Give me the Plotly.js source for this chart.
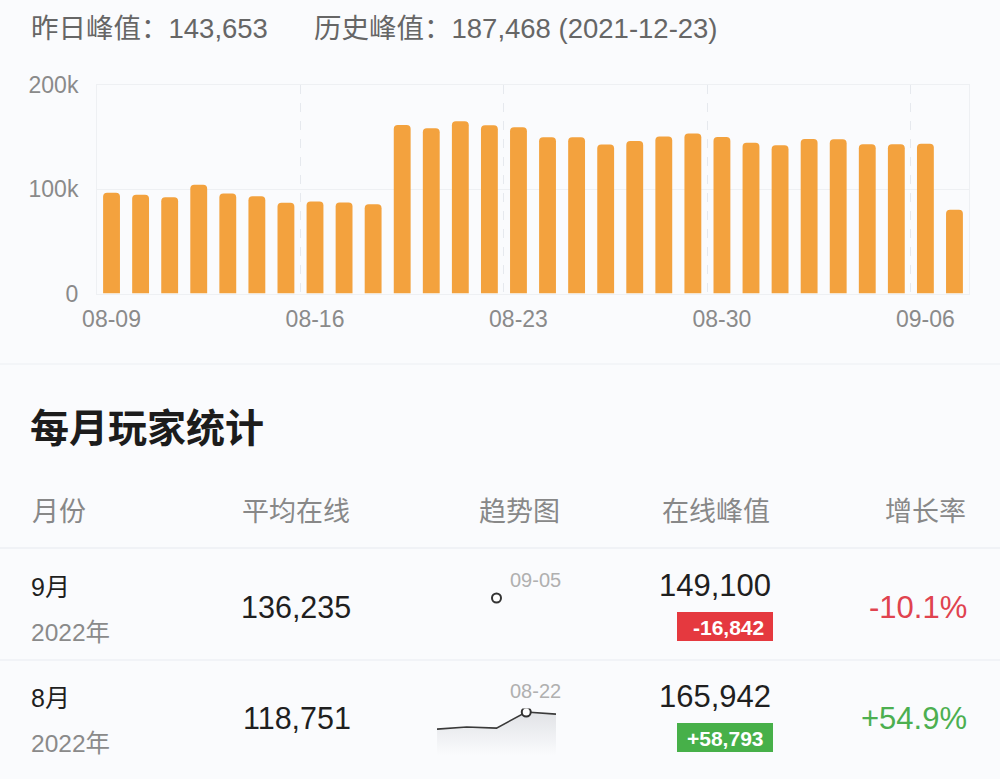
<!DOCTYPE html>
<html>
<head>
<meta charset="utf-8">
<script src="https://cdn.plot.ly/plotly-3.0.1.min.js"></script>
<style>
  html, body { margin: 0; padding: 0; background: #FAFBFD; }
  #chart { width: 1000px; height: 779px; }
</style>
</head>
<body>
<div id="chart"></div>
<script>
// ---------------- DATA ----------------
const dates = ['08-09','08-10','08-11','08-12','08-13','08-14','08-15','08-16','08-17','08-18',
               '08-19','08-20','08-21','08-22','08-23','08-24','08-25','08-26','08-27','08-28',
               '08-29','08-30','08-31','09-01','09-02','09-03','09-04','09-05','09-06','09-07'];
const dailyPeak = [96700, 94700, 92400, 104300, 96000, 93400, 87100, 88300, 87400, 85700,
                   161700, 158500, 165200, 161300, 159400, 149900, 149900, 142900, 146400, 150500,
                   153400, 150200, 144500, 142200, 148300, 148000, 143200, 143200, 143653, 80400];
const xTickLabels = ['08-09','08-16','08-23','08-30','09-06'];
const yTickVals = [0, 100000, 200000];
const yTickText = ['0', '100k', '200k'];

const headerTexts = ['昨日峰值：143,653', '历史峰值：187,468 (2021-12-23)'];
const sectionTitle = '每月玩家统计';
const columnHeaders = ['月份', '平均在线', '趋势图', '在线峰值', '增长率'];

const months = ['9月', '8月'];
const years = ['2022年', '2022年'];
const avgOnline = [136235, 118751];
const peakOnline = [149100, 165942];
const peakChange = [-16842, 58793];
const growthRate = [-10.1, 54.9];
const peakDate = ['09-05', '08-22'];
const sepTrend = [null, null, 149100, null, null];
const augTrend = [100000, 108000, 104000, 165942, 158000];
const trendIndex = [0, 1, 2, 3, 4];

// ---------------- HELPERS ----------------
const W = 1000, H = 779;
const px = x => x / W;
const py = y => 1 - y / H;
const FONT = "'Liberation Sans','Noto Sans CJK SC',sans-serif";
const fmt = v => v.toLocaleString('en-US');
const signed = v => (v > 0 ? '+' : '') + fmt(v);

// ---------------- TRACES ----------------
const traces = [];
// invisible trace so the grid-only subplot (x4/y4) is drawn
traces.push({
  type: 'scatter', mode: 'markers', x: [0], y: [0], xaxis: 'x4', yaxis: 'y4',
  marker: { opacity: 0 }, hoverinfo: 'skip'
});
traces.push({
  type: 'bar', x: dates, y: dailyPeak, xaxis: 'x', yaxis: 'y',
  marker: { color: '#F3A23E', cornerradius: 4 }, hoverinfo: 'skip'
});

const trends = [sepTrend, augTrend];
trends.forEach((tr, i) => {
  const ax = i === 0 ? '2' : '3';
  const vals = tr.filter(v => v !== null);
  const peakIdx = tr.indexOf(Math.max(...vals));
  if (vals.length > 1) {
    traces.push({
      type: 'scatter', mode: 'lines', x: trendIndex, y: tr,
      xaxis: 'x' + ax, yaxis: 'y' + ax,
      line: { color: '#3a3a3a', width: 1.6 },
      fill: 'tozeroy',
      fillgradient: { type: 'vertical', colorscale: [[0, 'rgba(205,207,212,0)'], [1, 'rgba(205,207,212,0.55)']] },
      hoverinfo: 'skip'
    });
  }
  traces.push({
    type: 'scatter', mode: 'markers', x: [trendIndex[peakIdx]], y: [tr[peakIdx]],
    xaxis: 'x' + ax, yaxis: 'y' + ax,
    marker: { color: '#ffffff', size: 9, line: { color: '#333333', width: 2 } },
    hoverinfo: 'skip'
  });
});

// ---------------- ANNOTATIONS ----------------
const ann = [];
function txt(text, x, y, size, color, anchor, opts) {
  ann.push(Object.assign({
    text: text, x: px(x), y: py(y), xref: 'paper', yref: 'paper',
    xanchor: anchor || 'left', yanchor: 'middle', showarrow: false,
    font: { family: FONT, size: size, color: color }
  }, opts || {}));
}
txt(headerTexts[0], 29, 28, 27.5, '#666666');
txt(headerTexts[1], 312, 28, 27.5, '#666666');
txt('<b>' + sectionTitle + '</b>', 28, 428, 39, '#1c1c1c');

const headerX = [30, 352, 562, 772, 968];
const headerAnchor = ['left', 'right', 'right', 'right', 'right'];
columnHeaders.forEach((h, i) => txt(h, headerX[i], 512, 27, '#888888', headerAnchor[i]));

const rowOffset = [0, 111];
const shapes = [];
months.forEach((m, i) => {
  const o = rowOffset[i];
  txt(m, 29, 587 + o, 25, '#1f1f1f');
  txt(years[i], 29, 632 + o, 24.5, '#8a8a8a');
  txt(fmt(avgOnline[i]), 353, 607 + o, 30.5, '#1f1f1f', 'right');
  txt(peakDate[i], 563, 580 + o, 20, '#b0b0b0', 'right');
  txt(fmt(peakOnline[i]), 773, 585 + o, 31, '#1f1f1f', 'right');
  const neg = peakChange[i] < 0;
  const badgeColor = neg ? '#E5393F' : '#47B049';
  shapes.push({ type: 'rect', xref: 'paper', yref: 'paper', x0: px(677), x1: px(773),
                y0: py(641 + o), y1: py(612 + o), fillcolor: badgeColor, line: { width: 0 } });
  txt('<b>' + signed(peakChange[i]) + '</b>', 766, 627 + o, 21, '#ffffff', 'right');
  txt((growthRate[i] > 0 ? '+' : '') + growthRate[i].toFixed(1) + '%', 969, 607 + o, 31,
      neg ? '#E0434F' : '#4CAF50', 'right');
});

// divider lines
[[548, '#EDEFF3'], [660, '#EEF0F4'], [364, '#F1F3F6']].forEach(([y, c]) => {
  shapes.push({ type: 'line', xref: 'paper', yref: 'paper', x0: 0, x1: 1, y0: py(y), y1: py(y),
                line: { color: c, width: 1.5 } });
});

// boundary grid lines (category boundaries before each labelled tick)
const boundaryVals = xTickLabels.map(l => dates.indexOf(l) - 0.5);

const hiddenAxis = extra => Object.assign({
  showgrid: false, zeroline: false, showticklabels: false, showline: false, ticks: '', fixedrange: true
}, extra);

const mainXDomain = [px(97), px(969)];
const mainYDomain = [py(293.5), py(85)];

const layout = {
  width: W, height: H,
  margin: { l: 0, r: 0, t: 0, b: 0 },
  paper_bgcolor: '#FAFBFD', plot_bgcolor: 'rgba(0,0,0,0)',
  showlegend: false, bargap: 0.42,
  xaxis: {
    domain: mainXDomain, type: 'category',
    tickmode: 'array', tickvals: xTickLabels, ticktext: xTickLabels, tickangle: 0,
    ticks: '', showgrid: false,
    showline: true, mirror: true, linecolor: '#EEF0F3', linewidth: 1, zeroline: false,
    tickfont: { family: FONT, size: 23, color: '#8a8a8a' }, fixedrange: true, ticklabelstandoff: 5
  },
  yaxis: {
    domain: mainYDomain, range: [0, 200000],
    tickmode: 'array', tickvals: yTickVals, ticktext: yTickText,
    showgrid: true, gridcolor: '#EEF0F3', zeroline: false, ticks: '',
    showline: true, mirror: true, linecolor: '#EEF0F3',
    tickfont: { family: FONT, size: 23, color: '#8a8a8a' }, fixedrange: true, ticklabelstandoff: 13
  },
  xaxis4: {
    domain: mainXDomain, anchor: 'y4', type: 'linear',
    range: [-0.5, dates.length - 0.5], tickmode: 'array', tickvals: boundaryVals,
    showticklabels: false, ticks: '', showgrid: true, gridcolor: '#E6E9EE', griddash: 'dash', gridwidth: 1,
    zeroline: false, showline: false, fixedrange: true
  },
  yaxis4: hiddenAxis({ domain: mainYDomain, range: [0, 1], anchor: 'x4' }),
  xaxis2: hiddenAxis({ domain: [px(437), px(556)], range: [0, 4], anchor: 'y2' }),
  yaxis2: hiddenAxis({ domain: [py(636.6), py(590)], range: [0, 180000], anchor: 'x2' }),
  xaxis3: hiddenAxis({ domain: [px(437), px(556)], range: [0, 4], anchor: 'y3' }),
  yaxis3: hiddenAxis({ domain: [py(755), py(708.4)], range: [0, 180000], anchor: 'x3' }),
  annotations: ann,
  shapes: shapes
};

Plotly.newPlot('chart', traces, layout, { staticPlot: true, displayModeBar: false });
</script>
</body>
</html>
